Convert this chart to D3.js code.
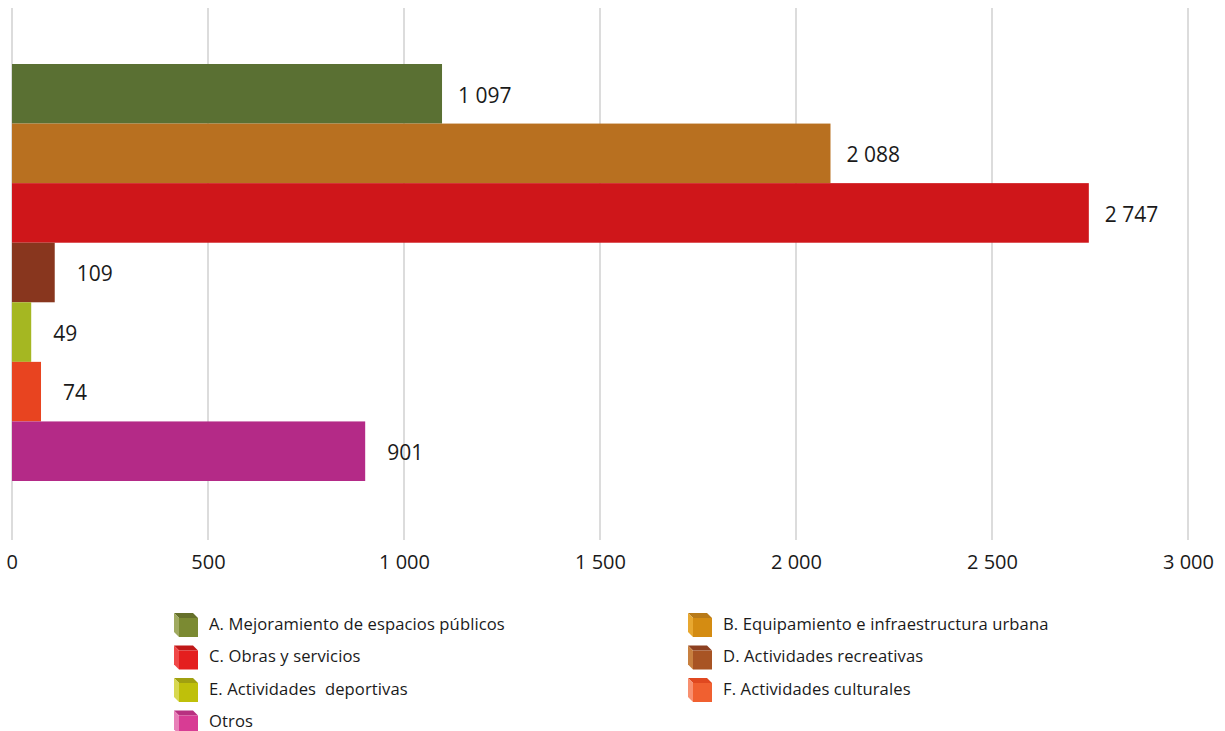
<!DOCTYPE html>
<html>
<head>
<meta charset="utf-8">
<script src="https://cdn.jsdelivr.net/npm/d3@7"></script>
<style>
  body { margin: 0; background: #fff; }
  text { font-family: "Open Sans", "Noto Sans", sans-serif; fill: #1a1a1a; }
</style>
</head>
<body>
<div id="chart"></div>
<script>
// Data
const categories = ["A", "B", "C", "D", "E", "F", "Otros"];
const values = [1097, 2088, 2747, 109, 49, 74, 901];
const legendLabels = [
    "A. Mejoramiento de espacios públicos",
    "B. Equipamiento e infraestructura urbana",
    "C. Obras y servicios",
    "D. Actividades recreativas",
    "E. Actividades  deportivas",
    "F. Actividades culturales",
    "Otros",
];
const xTicks = [0, 500, 1000, 1500, 2000, 2500, 3000];

// Colours: bar fill, and legend cube faces (front, top, left)
const barColors = ["#5a7033", "#b87020", "#cf161a", "#88361e", "#a5b722", "#e84420", "#b42a87"];
const cubeFront = ["#7b8a32", "#d48c12", "#e41e1e", "#a85424", "#bfc00a", "#f06030", "#d83c94"];
const cubeTop = ["#65702a", "#b87a18", "#c01818", "#8c4020", "#a0a010", "#e04820", "#b83080"];
const cubeLeft = ["#a0aa60", "#e8a830", "#f04848", "#c88040", "#d8d850", "#f89070", "#e880b8"];

const W = 1225, H = 731;
const svg = d3.select("#chart").append("svg").attr("width", W).attr("height", H);

const fmt = (v) => d3.format(",")(v).replace(/,/g, " ");

// Scales
const x = d3.scaleLinear().domain([0, 3000]).range([12, 1188]);
const y = d3.scaleBand().domain(categories).range([64, 481]).padding(0);

// Gridlines
svg.append("g")
    .selectAll("line")
    .data(xTicks)
    .enter()
    .append("line")
    .attr("x1", (d) => x(d))
    .attr("x2", (d) => x(d))
    .attr("y1", 8)
    .attr("y2", 540)
    .attr("stroke", "#dcdcdc")
    .attr("stroke-width", 2);

// Axis labels
const xAxis = svg.append("g")
    .attr("transform", "translate(0,540)")
    .call(d3.axisBottom(x).tickValues(xTicks).tickFormat(fmt).tickSize(0).tickPadding(15));
xAxis.select(".domain").remove();
xAxis.selectAll("text")
    .attr("font-size", 20)
    .attr("font-family", '"Open Sans", "Noto Sans", sans-serif')
    .attr("fill", "#1a1a1a")
    .attr("text-anchor", (d, i) => (i === 0 ? "start" : null))
    .attr("dx", (d, i) => (i === 0 ? -6 : 0));

// Bars
svg.append("g")
    .selectAll("rect")
    .data(values)
    .enter()
    .append("rect")
    .attr("x", x(0))
    .attr("y", (d, i) => y(categories[i]))
    .attr("width", (d) => x(d) - x(0))
    .attr("height", y.bandwidth())
    .attr("fill", (d, i) => barColors[i]);

// Value labels
svg.append("g")
    .selectAll("text")
    .data(values)
    .enter()
    .append("text")
    .attr("x", (d) => x(d) + (d >= 1000 ? 16 : 22))
    .attr("y", (d, i) => y(categories[i]) + y.bandwidth() / 2 + 1.5)
    .attr("dy", "0.35em")
    .attr("font-size", 21)
    .text(fmt);

// Legend
const legend = svg.append("g");
legendLabels.forEach((label, i) => {
    const col = i === 6 ? 0 : i % 2;
    const row = Math.floor(i / 2);
    const gx = col === 0 ? 174 : 688;
    const gy = 613 + row * 32.5;
    const g = legend.append("g").attr("transform", `translate(${gx},${gy})`);
    const d = 5, s = 19;
    g.append("polygon")
        .attr("points", `0,0 ${s},0 ${s + d},${d} ${d},${d}`)
        .attr("fill", cubeTop[i]);
    g.append("polygon")
        .attr("points", `0,0 ${d},${d} ${d},${d + s} 0,${s}`)
        .attr("fill", cubeLeft[i]);
    g.append("rect")
        .attr("x", d)
        .attr("y", d)
        .attr("width", s)
        .attr("height", s)
        .attr("fill", cubeFront[i]);
    g.append("text")
        .attr("x", 35)
        .attr("y", 11)
        .attr("dy", "0.35em")
        .attr("font-size", 16.6)
        .attr("letter-spacing", 0.1)
        .attr("fill", "#2a2a2a")
        .style("white-space", "pre")
        .text(label);
});
</script>
</body>
</html>
